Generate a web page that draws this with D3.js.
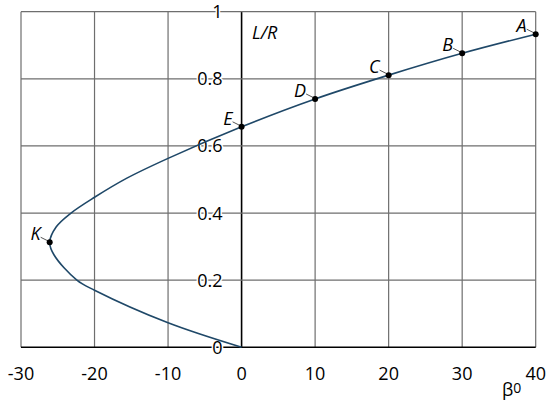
<!DOCTYPE html>
<html><head><meta charset="utf-8">
<script src="https://cdn.jsdelivr.net/npm/d3@7"></script>
<style>body{margin:0;background:#fff}svg{display:block}</style>
</head><body>
<script>
// Data
const xTicks = [-30, -20, -10, 0, 10, 20, 30, 40];
const yTicks = [0, 0.2, 0.4, 0.6, 0.8, 1];
const yTickLabels = ["0", "0.2", "0.4", "0.6", "0.8", "1"];
// curve points (beta in degrees, L/R)
const curveBeta = [0, -10, -20, -22.4, -25.5, -26.1, -25.2, -23.2, -20, -15.6, -10, 0, 10, 20, 30, 40];
const curveLR   = [0, 0.073, 0.17, 0.2, 0.275, 0.313, 0.359, 0.4, 0.447, 0.504, 0.563, 0.657, 0.740, 0.811, 0.876, 0.933];
// labelled points
const pointNames = ["A", "B", "C", "D", "E", "K"];
const pointBeta  = [40, 30, 20, 10, 0, -26.1];
const pointLR    = [0.933, 0.876, 0.811, 0.740, 0.657, 0.313];

const W = 550, H = 409;
const svg = d3.select("body").append("svg").attr("width", W).attr("height", H);
const x = d3.scaleLinear().domain([-30, 40]).range([21, 535.7]);
const y = d3.scaleLinear().domain([0, 1]).range([347.3, 11.7]);
const font = "'Open Sans', 'DejaVu Sans', sans-serif";

// grid
const g = svg.append("g");
g.selectAll("line.v").data(xTicks).join("line")
  .attr("x1", d => x(d)).attr("x2", d => x(d))
  .attr("y1", y(0)).attr("y2", y(1))
  .attr("stroke", d => d === 0 ? "#000" : "#6e6e6e")
  .attr("stroke-width", d => d === 0 ? 1.6 : 1.2);
g.selectAll("line.h").data(yTicks).join("line")
  .attr("x1", x(-30)).attr("x2", x(40))
  .attr("y1", d => y(d)).attr("y2", d => y(d))
  .attr("stroke", d => d === 0 ? "#000" : "#6e6e6e")
  .attr("stroke-width", d => d === 0 ? 1.6 : 1.2);

// y tick labels (inside, left of vertical axis)
svg.append("g").selectAll("text").data(yTicks).join("text")
  .attr("x", x(0) - 19).attr("y", d => y(d))
  .attr("dy", "0.36em")
  .attr("text-anchor", "end")
  .attr("font-family", font).attr("font-size", 18)
  .attr("fill", "#000")
  .attr("stroke", "#fff").attr("stroke-width", 3).attr("paint-order", "stroke")
  .text((d, i) => yTickLabels[i]);

// x tick labels
svg.append("g").selectAll("text").data(xTicks).join("text")
  .attr("x", d => x(d)).attr("y", 380)
  .attr("text-anchor", "middle")
  .attr("font-family", font).attr("font-size", 18)
  .attr("fill", "#000")
  .text(d => String(d));

// axis titles
svg.append("text").attr("x", 252).attr("y", 39)
  .attr("font-family", font).attr("font-size", 18).attr("font-style", "italic")
  .text("L/R");
const bt = svg.append("text").attr("x", 502).attr("y", 396)
  .attr("font-family", font).attr("font-size", 18);
bt.append("tspan").text("β");
bt.append("tspan").attr("font-size", 14).attr("dy", -3).text("0");

// curve
const pts = curveBeta.map((b, i) => [b, curveLR[i]]);
const line = d3.line().x(d => x(d[0])).y(d => y(d[1])).curve(d3.curveCatmullRom.alpha(0.5));
svg.append("path").datum(pts).attr("d", line)
  .attr("fill", "none").attr("stroke", "#1f4868").attr("stroke-width", 1.6);

// points, leaders, labels
const pd = pointNames.map((n, i) => ({ n, b: pointBeta[i], v: pointLR[i] }));
const pg = svg.append("g");
pg.selectAll("line").data(pd).join("line")
  .attr("x1", d => x(d.b) - 9).attr("y1", d => y(d.v) - 5)
  .attr("x2", d => x(d.b) - 1).attr("y2", d => y(d.v) - 1)
  .attr("stroke", "#555").attr("stroke-width", 1);
pg.selectAll("circle").data(pd).join("circle")
  .attr("cx", d => x(d.b)).attr("cy", d => y(d.v)).attr("r", 3)
  .attr("fill", "#000");
pg.selectAll("text").data(pd).join("text")
  .attr("x", d => x(d.b) - 9).attr("y", d => y(d.v) - 2)
  .attr("text-anchor", "end")
  .attr("font-family", font).attr("font-size", 18).attr("font-style", "italic")
  .text(d => d.n);
</script>
</body></html>
